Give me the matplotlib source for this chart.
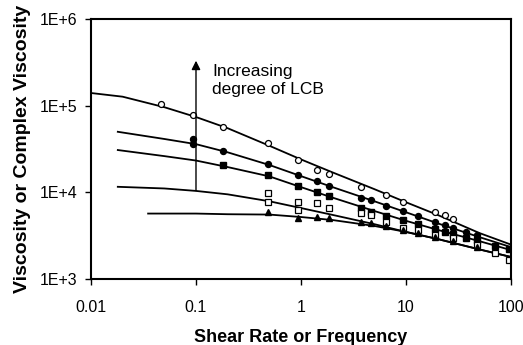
import matplotlib.pyplot as plt
import numpy as np

plt.rcParams['font.family'] = ['Liberation Sans', 'DejaVu Sans']

# fitted curves
x_curve = [0.01, 0.02, 0.05, 0.1, 0.2, 0.5, 1, 2, 5, 10, 20, 50, 100]
curve1 = [1.40e5, 1.27e5, 9.6e4, 7.4e4, 5.5e4, 3.45e4, 2.4e4, 1.7e4, 1.09e4, 7.7e3, 5.5e3, 3.4e3, 2.5e3]

x_curve2 = [0.018, 0.05, 0.1, 0.2, 0.5, 1, 2, 5, 10, 20, 50, 100]
curve2 = [5.0e4, 4.13e4, 3.6e4, 2.9e4, 2.07e4, 1.54e4, 1.15e4, 7.9e3, 5.9e3, 4.4e3, 3.05e3, 2.34e3]
curve3 = [3.08e4, 2.62e4, 2.33e4, 1.96e4, 1.53e4, 1.15e4, 8.7e3, 6.1e3, 4.7e3, 3.7e3, 2.74e3, 2.16e3]
curve4 = [1.16e4, 1.11e4, 1.04e4, 9.5e3, 7.9e3, 6.6e3, 5.5e3, 4.3e3, 3.5e3, 2.9e3, 2.2e3, 1.8e3]

x_curve5 = [0.035, 0.1, 0.2, 0.5, 1, 2, 5, 10, 20, 50, 100]
curve5 = [5.7e3, 5.7e3, 5.6e3, 5.55e3, 5.2e3, 4.8e3, 4.1e3, 3.5e3, 2.9e3, 2.2e3, 1.8e3]

# measured points
x_oc = [0.046, 0.094, 0.18, 0.48, 0.94, 1.43, 1.86, 3.75, 6.5, 9.4, 19, 23.7, 28]
y_oc = [1.04e5, 7.8e4, 5.7e4, 3.7e4, 2.36e4, 1.8e4, 1.63e4, 1.15e4, 9.3e3, 7.7e3, 5.9e3, 5.5e3, 4.9e3]

x_fc = [0.094, 0.094, 0.18, 0.48, 0.94, 1.43, 1.86, 3.75, 4.6, 6.5, 9.4, 13, 19, 23.7, 28, 37, 47]
y_fc = [4.1e4, 3.6e4, 3.0e4, 2.15e4, 1.6e4, 1.35e4, 1.2e4, 8.6e3, 8.1e3, 6.9e3, 6.1e3, 5.3e3, 4.6e3, 4.2e3, 3.9e3, 3.5e3, 3.2e3]

x_fs = [0.18, 0.48, 0.94, 1.43, 1.86, 3.75, 4.6, 6.5, 9.4, 13, 19, 23.7, 28, 37, 47, 70, 95]
y_fs = [2.05e4, 1.6e4, 1.2e4, 1.0e4, 9.0e3, 6.6e3, 6.0e3, 5.3e3, 4.8e3, 4.3e3, 3.8e3, 3.5e3, 3.3e3, 3.0e3, 2.8e3, 2.4e3, 2.2e3]

x_os = [0.48, 0.48, 0.94, 0.94, 1.43, 1.86, 3.75, 4.6, 6.5, 9.4, 13, 19, 28, 47, 70, 95]
y_os = [9.8e3, 7.7e3, 7.7e3, 6.2e3, 7.5e3, 6.6e3, 5.76e3, 5.5e3, 4.5e3, 3.9e3, 3.67e3, 3.2e3, 2.97e3, 2.46e3, 2.0e3, 1.65e3]

x_tr = [0.48, 0.94, 1.43, 1.86, 3.75, 4.6, 6.5, 9.4, 13, 19, 28, 47]
y_tr = [5.9e3, 5.05e3, 5.2e3, 5.0e3, 4.5e3, 4.4e3, 4.1e3, 3.67e3, 3.4e3, 3.05e3, 2.74e3, 2.34e3]

xticks = [0.01, 0.1, 1, 10, 100]
xticklabels = ['0.01', '0.1', '1', '10', '100']
yticks = [1e3, 1e4, 1e5, 1e6]
yticklabels = ['1E+3', '1E+4', '1E+5', '1E+6']

fig = plt.figure(figsize=(5.23, 3.45), dpi=100)
ax = fig.add_axes([0.174, 0.191, 0.803, 0.754])

lw = 1.3
ax.plot(x_curve, curve1, color='black', lw=lw)
ax.plot(x_curve2, curve2, color='black', lw=lw)
ax.plot(x_curve2, curve3, color='black', lw=lw)
ax.plot(x_curve2, curve4, color='black', lw=lw)
ax.plot(x_curve5, curve5, color='black', lw=lw)

ax.plot(x_oc, y_oc, 'o', mfc='white', mec='black', ms=4.3, mew=0.9)
ax.plot(x_fc, y_fc, 'o', mfc='black', mec='black', ms=4.3)
ax.plot(x_fs, y_fs, 's', mfc='black', mec='black', ms=3.8)
ax.plot(x_os, y_os, 's', mfc='white', mec='black', ms=4.3, mew=0.9)
ax.plot(x_tr, y_tr, '^', mfc='black', mec='black', ms=4.3)

# arrow
ax.annotate('', xy=(0.1, 3.3e5), xytext=(0.1, 1.05e4),
            arrowprops=dict(arrowstyle='-|>', color='black', lw=1.0,
                            mutation_scale=13, shrinkA=0, shrinkB=0))
ax.text(0.142, 1.95e5, 'Increasing\ndegree of LCB', fontsize=12.5,
        va='center', ha='left', linespacing=1.25)

ax.set_xscale('log')
ax.set_yscale('log')
ax.set_xlim(0.01, 100)
ax.set_ylim(1e3, 1e6)
ax.set_xticks(xticks)
ax.set_xticklabels(xticklabels)
ax.set_yticks(yticks)
ax.set_yticklabels(yticklabels)
ax.minorticks_off()
ax.tick_params(axis='both', labelsize=11.5, length=4, width=1, direction='out')
ax.tick_params(axis='x', pad=11)
ax.tick_params(axis='y', pad=6)
for s in ax.spines.values():
    s.set_linewidth(1.5)

ax.set_xlabel('Shear Rate or Frequency', fontsize=13, fontweight='bold', labelpad=10)
ax.set_ylabel('Viscosity or Complex Viscosity', fontsize=14, fontweight='bold', labelpad=6)

fig.savefig('out.png', dpi=100)
